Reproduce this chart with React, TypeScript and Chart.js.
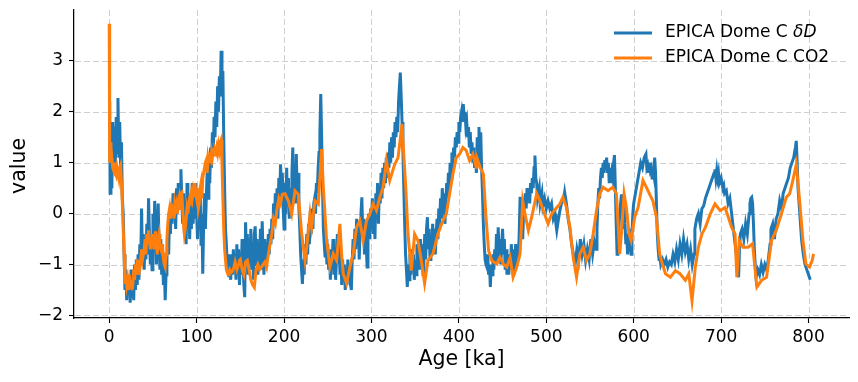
import { useEffect, useRef } from "react";
import { Chart, registerables } from "chart.js";

Chart.register(...registerables);

// ---------- data ----------
const xTickValues = [0, 100, 200, 300, 400, 500, 600, 700, 800];
const yTickValues = [-2, -1, 0, 1, 2, 3];
const xLabel = "Age [ka]";
const yLabel = "value";
const legendBase = "EPICA Dome C ";
const legendDeltaD = "δD";
const legendCO2 = "EPICA Dome C CO2";

// [age ka, standardized value]
const deltaD: [number, number][] = [
  [0,1.5],[0.5,2.2],[1,0.4],[2,1.2],[3,0.5],[4,1.8],[5,0.9],[6,1.7],[7,1.0],[8,1.9],[9,1.2],[10,2.27],[11,1.1],[12,1.8],[13,0.9],[14,1.4],[15,0.3],[16,0.0],[17,-0.8],
  [18,-1.5],[19,-1.1],[20,-1.7],[21,-1.2],[22,-1.6],[23,-1.3],[24,-1.75],[25,-1.1],[26,-1.65],[27,-1.2],[28,-1.7],[29,-1.0],[30,-1.5],[31,-0.9],[32,-1.4],[33,-0.8],[34,-1.3],[35,-0.6],
  [36,-1.0],[37,0.1],[38,-0.9],[39,-0.4],[40,-1.1],[41,-0.5],[42,-0.9],[43,-0.2],[44,-0.8],[45,0.3],[46,-0.4],[47,-1.0],
  [48,-0.5],[49,-1.1],[50,0.0],[51,-0.7],[52,0.25],[53,-0.5],[54,-1.0],[55,-0.3],[56,0.2],[57,-0.6],[58,-1.1],[59,-0.5],[60,-1.2],[61,-0.8],[62,-1.4],[63,-1.0],[64,-1.7],[65,-1.2],
  [66,-0.9],[67,-0.3],[68,-0.8],[69,0.0],[70,-0.4],[71,0.2],[72,-0.2],[73,0.4],[74,-0.1],[75,0.3],[76,-0.3],[77,0.5],[78,0.0],[79,0.6],[80,0.2],[81,0.5],[82,0.87],[83,0.3],
  [84,-0.2],[85,0.4],[86,-0.4],[87,0.2],[88,-0.6],[89,0.6],[90,-0.1],[91,0.3],[92,-0.5],[93,0.2],[94,-0.3],[95,0.6],[96,-0.2],[97,0.4],[98,-0.1],[99,0.6],[100,0.0],[101,-0.5],[102,0.3],[103,-0.3],[104,0.5],[105,-0.6],[106,0.0],[107,-1.18],[108,-0.2],[109,0.4],[110,-0.3],[111,0.3],
  [112,0.8],[113,0.3],[114,1.0],[115,0.6],[116,1.3],[117,0.9],[118,1.6],[119,1.2],[120,1.9],[121,1.5],[122,2.2],[123,1.7],[124,2.5],[125,2.0],[126,2.7],[127,2.3],[128,3.2],[129,2.4],[130,2.8],
  [131,1.5],[132,0.5],[133,-0.3],[134,-0.6],[135,-1.0],[136,-0.8],[137,-1.25],
  [138,-0.9],[139,-1.3],[140,-0.8],[141,-1.2],[142,-0.7],[143,-1.1],[144,-0.8],[145,-1.3],[146,-0.6],[147,-1.1],[148,-0.7],[149,-1.4],[150,-0.9],[151,-1.2],[152,-0.5],[153,-1.0],[154,-1.4],[155,-1.64],[156,-0.17],[157,-0.9],[158,-0.4],[159,-1.2],[160,-0.5],[161,-1.0],[162,-0.3],[163,-1.1],[164,-0.6],[165,-1.3],[166,-0.4],[167,-0.25],[168,-1.0],[169,-0.5],[170,-1.2],[171,-0.6],[172,-0.9],[173,-0.3],[174,-1.1],[175,-0.15],[176,-0.8],[177,-1.2],[178,-0.5],[179,-1.0],[180,-0.6],[181,-0.9],[182,-0.4],
  [183,-0.8],[184,-0.3],[185,-0.6],[186,-0.1],[187,-0.5],[188,0.2],[189,-0.2],[190,0.4],[191,0.0],[192,0.5],[193,-0.1],[194,0.7],[195,0.3],[196,0.97],[197,0.5],[198,0.8],
  [199,0.1],[200,-0.3],[201,0.6],[202,0.0],[203,0.9],[204,0.2],[205,0.7],[206,-0.1],[207,0.5],[208,0.1],[209,0.8],[210,1.3],[211,0.3],[212,0.9],[213,0.2],[214,1.17],[215,0.4],[216,0.8],[217,0.1],
  [218,-0.3],[219,-0.8],[220,-1.1],[221,-1.38],[222,-0.9],[223,-1.2],[224,-0.6],[225,-1.0],
  [226,-0.4],[227,-0.8],[228,-0.2],[229,-0.6],[230,0.05],[231,-0.4],[232,0.1],[233,-0.3],[234,0.2],
  [235,0.3],[236,0.0],[237,0.6],[238,0.4],[239,0.9],[240,1.2],[241,1.6],[242,2.35],[243,1.5],[244,0.5],[245,-0.3],[246,-0.6],[247,-0.86],[248,-0.5],[249,-1.0],
  [250,-0.6],[251,-1.1],[252,-0.8],[253,-1.3],[254,-0.7],[255,-1.0],[256,-0.5],[257,-1.2],[258,-0.8],[259,-1.3],[260,-0.9],[261,-0.4],[262,-1.0],[263,-0.6],[264,-1.2],[265,-0.8],[266,-1.4],[267,-0.9],[268,-1.3],[269,-1.0],[270,-1.5],[271,-1.1],[272,-1.4],[273,-0.9],[274,-1.3],[275,-1.0],[276,-1.4],[277,-1.5],[278,-0.9],
  [279,-0.5],[280,-0.9],[281,-0.3],[282,-0.7],[283,-0.1],[284,-0.6],[285,-0.2],[286,-0.9],[287,-0.3],[288,0.0],[289,0.32],[290,-0.4],[291,-0.1],[292,-0.8],[293,-0.2],[294,-0.6],[295,-1.05],[296,-0.3],[297,0.0],[298,-0.5],[299,0.1],[300,-0.2],
  [301,0.3],[302,-0.4],[303,0.2],[304,-0.5],[305,0.4],[306,0.0],[307,0.6],[308,-0.2],[309,0.5],[310,0.2],[311,0.8],[312,0.3],[313,0.9],[314,0.5],[315,1.0],[316,0.6],[317,1.1],[318,0.7],[319,1.2],[320,0.9],[321,1.4],[322,1.0],[323,1.5],[324,1.1],[325,1.6],[326,1.3],[327,1.8],
  [328,1.5],[329,1.9],[330,1.6],[331,2.2],[332,2.5],[333,2.77],[334,2.3],[335,1.8],[336,1.2],[337,0.5],[338,-0.2],[339,-0.8],[340,-1.1],[341,-1.44],[342,-1.0],
  [343,-1.3],[344,-0.8],[345,-1.2],[346,-0.7],[347,-1.1],[348,-0.8],[349,-1.3],[350,-0.9],[351,-1.2],[352,-0.6],[353,-1.0],[354,-0.7],[355,-1.1],[356,-0.5],[357,-0.9],[358,-0.6],[359,-1.2],[360,-0.8],[361,-0.4],[362,-0.9],[363,-0.3],[364,-0.07],[365,-0.7],[366,-0.3],[367,-0.9],[368,-0.5],[369,-0.8],[370,-0.2],[371,-0.6],[372,-0.3],[373,-0.8],
  [374,-0.4],[375,-0.1],[376,-0.5],[377,0.1],[378,-0.2],[379,0.3],[380,-0.1],[381,0.5],[382,0.1],[383,0.4],[384,-0.2],[385,0.2],[386,0.6],[387,0.3],[388,0.8],[389,0.5],[390,1.0],[391,0.7],[392,1.2],[393,0.9],[394,1.3],[395,1.1],[396,1.5],[397,1.3],
  [398,1.6],[399,1.4],[400,1.8],[401,1.6],[402,1.9],[403,2.0],[404,1.8],[405,2.15],[406,1.9],[407,2.0],[408,1.7],[409,1.8],[410,1.5],[411,1.7],[412,1.3],[413,1.6],[414,1.2],[415,1.4],[416,1.0],[417,1.3],[418,0.9],[419,1.2],[420,0.8],[421,1.5],[422,1.3],[423,1.7],[424,1.0],[425,1.6],[426,0.9],
  [427,0.4],[428,-0.2],[429,-0.6],[430,-0.9],[431,-1.0],[432,-1.05],[433,-0.8],[434,-1.2],[435,-1.0],[436,-1.44],
  [437,-1.0],[438,-1.2],[439,-0.8],[440,-1.1],[441,-0.7],[442,-1.0],[443,-0.4],[444,-0.9],[445,-0.27],[446,-0.8],[447,-0.5],[448,-1.0],[449,-0.6],[450,-0.3],[451,-0.8],[452,-0.5],[453,-1.1],[454,-0.7],[455,-1.2],[456,-0.9],[457,-1.2],[458,-0.8],[459,-1.1],[460,-0.6],[461,-1.0],[462,-0.7],[463,-1.2],[464,-0.9],[465,-0.6],[466,-1.0],[467,-0.7],[468,-0.9],
  [469,-0.4],[470,0.3],[471,0.32],[472,-0.2],[473,-0.5],[474,0.0],[475,0.2],[476,0.4],[477,0.1],[478,0.5],[479,0.3],[480,0.45],[481,0.2],[482,0.6],[483,0.4],[484,0.7],[485,0.5],[486,0.9],[487,1.14],[488,0.7],
  [489,0.6],[490,0.3],[492,0.5],[493,0.2],[495,0.4],[496,0.15],[498,0.3],[500,0.1],[502,0.25],[504,0.1],[506,0.2],[508,-0.1],[510,0.0],[511,-0.2],[512,-0.33],[514,-0.1],[516,0.1],[518,0.25],[520,0.3],[521,0.42],[523,0.2],[525,-0.1],[527,-0.3],
  [529,-0.6],[531,-0.8],[533,-1.0],[535,-0.7],[537,-0.9],[539,-0.5],[541,-0.8],[543,-0.6],[545,-0.92],[547,-0.7],[549,-0.9],[551,-0.5],[553,-0.8],[555,-0.55],[557,-0.7],
  [558,-0.3],[559,0.2],[560,0.5],[561,0.3],[562,0.7],[563,0.9],[564,0.7],[565,1.0],[566,0.8],[567,1.05],[568,0.9],[569,1.1],[570,0.8],[571,1.0],[572,0.6],[573,0.9],[574,0.6],[575,0.8],[576,0.7],[577,1.0],[578,1.15],[579,0.5],
  [580,-0.2],[581,-0.8],[582,-0.6],[583,-0.3],[584,0.0],[585,0.2],[586,0.38],[587,0.1],[588,-0.3],[589,0.2],[590,-0.2],[591,-0.6],[592,-0.4],[593,-0.8],[594,-0.5],[595,-0.3],[596,-0.6],[597,-0.8],[598,-0.4],
  [599,0.0],[600,0.2],[602,0.4],[604,0.6],[606,0.8],[608,1.0],[610,0.9],[612,1.1],[614,1.17],[615,0.9],[616,0.95],[617,0.8],[618,1.0],[619,0.85],[620,0.9],[621,0.7],[622,0.85],[623,0.75],[624,1.1],[625,0.8],
  [626,0.2],[627,-0.4],[628,-0.7],[629,-0.9],[630,-0.85],[631,-1.0],[633,-0.9],[635,-1.0],
  [637,-0.9],[639,-1.05],[641,-0.95],[643,-1.0],[645,-0.8],[647,-0.95],[649,-0.7],
  [651,-0.9],[653,-0.6],[655,-0.8],[657,-0.5],[659,-0.75],[661,-0.6],[663,-0.9],[665,-0.7],[667,-1.0],[669,-0.8],
  [670,-0.3],[672,-0.1],[674,0.0],[676,-0.2],[678,0.1],[680,0.15],[682,0.3],[684,0.4],[686,0.5],[688,0.6],[690,0.7],[692,0.8],[693,0.87],[694,0.7],[695,0.85],[696,0.7],[697,0.8],[698,0.6],[700,0.7],[702,0.5],[703,0.55],[704,0.4],[706,0.45],
  [708,0.2],[710,0.3],[712,0.0],[714,-0.3],[716,-0.6],[718,-0.9],[720,-1.25],[721,-0.7],
  [722,-0.4],[724,-0.3],[726,-0.5],[728,-0.2],[730,-0.4],[732,0.0],[733,0.2],[734,0.3],[735,0.32],[736,0.2],[737,-0.2],[738,-0.7],
  [739,-1.0],[740,-1.25],[742,-1.1],[744,-1.2],[746,-1.0],[748,-1.15],[750,-1.0],[752,-1.1],[754,-0.9],[756,-0.6],
  [757,-0.3],[759,-0.2],[761,-0.5],[763,-0.1],[765,0.0],[767,0.25],[769,0.1],[771,0.4],[773,0.5],[775,0.6],[777,0.7],[779,0.9],[781,1.0],[783,1.1],[785,1.3],[786,1.43],[787,1.0],
  [788,0.5],[790,0.0],[792,-0.5],[794,-0.8],[796,-1.0],[798,-1.1],[800,-1.2],[802,-1.3],
];

const co2: [number, number][] = [
  [0,3.73],[0.5,1.0],[1,1.4],[2,1.0],[3,1.1],[4,0.9],[5,0.85],[6,1.0],[7,0.8],[8,0.75],[9,0.9],[10,0.8],[11,0.7],[12,0.9],[13,0.95],[14,0.6],[15,0.2],[16,-0.3],[17,-0.8],[18,-1.38],[19,-1.2],
  [20,-1.4],[21,-1.3],[22,-1.5],[23,-1.2],[24,-1.45],[25,-1.3],[26,-1.5],[27,-1.4],[28,-1.1],[29,-1.3],[30,-1.0],[31,-1.2],[32,-0.9],[33,-1.1],[34,-1.2],[35,-1.0],[36,-0.9],[37,-0.7],[38,-0.9],[39,-0.8],
  [40,-0.7],[41,-0.5],[42,-0.8],[43,-0.4],[44,-0.6],[45,-0.33],[46,-0.5],[47,-0.7],[48,-0.45],[49,-0.6],[50,-0.4],[51,-0.7],[52,-0.5],[53,-0.35],[54,-0.6],[55,-0.8],[56,-0.5],
  [57,-0.4],[58,-0.6],[59,-0.7],[60,-0.75],[61,-0.6],[62,-0.9],[63,-1.0],[64,-1.05],[65,-0.8],[66,-0.5],[67,-0.2],[68,0.0],[69,0.1],
  [70,-0.1],[71,0.2],[72,0.0],[73,0.15],[74,-0.1],[75,0.2],[76,0.1],[77,0.19],[78,0.0],[79,0.2],[80,0.3],[81,0.1],[82,0.4],[83,0.42],[84,0.1],[85,-0.2],[86,-0.4],[87,-0.3],[88,-0.1],[89,0.1],[90,0.0],[91,0.2],[92,0.3],[93,0.25],[94,0.4],[95,0.3],[96,0.45],[97,0.35],[98,0.6],[99,0.4],[100,0.3],[101,0.5],[102,0.1],[103,0.2],[104,0.5],[105,0.6],[106,0.3],[107,0.7],[108,0.8],[109,0.9],[110,1.0],[111,1.05],
  [112,0.8],[113,1.1],[114,1.0],[115,1.1],[116,1.05],[117,1.2],[118,1.1],[119,1.2],[120,1.15],[121,1.25],[122,1.2],[123,1.3],[124,1.2],[125,1.35],[126,1.25],[127,1.4],[128,1.45],[129,1.0],[130,0.3],[131,-0.3],[132,-0.7],[133,-0.9],[134,-1.1],[135,-1.15],[136,-1.2],[137,-1.18],
  [138,-1.1],[140,-1.15],[142,-1.1],[144,-0.95],[146,-1.1],[148,-1.0],[149,-0.92],[150,-0.9],[152,-1.1],[154,-1.2],[156,-0.95],[158,-0.92],[160,-1.1],[162,-1.3],[164,-1.4],[166,-1.45],[168,-1.1],[170,-1.0],[172,-1.1],[174,-1.05],[176,-1.0],[178,-0.95],[180,-1.05],[182,-0.8],
  [184,-0.6],[186,-0.4],[188,-0.1],[190,-0.2],[192,0.1],[194,0.3],[196,0.2],[198,0.38],
  [201.1,0.39],[204.9,0.25],[208.7,-0.01],[212.5,0.45],[216.3,0.38],[220.2,-0.4],[224,-0.92],[225.9,-0.66],[229.7,-0.01],[231.6,-0.27],[235.4,0.25],[239.2,0.19],[243,1.27],[244.9,0.52],[248.7,-0.53],[252.5,-1.05],[256.3,-0.79],[260.1,-0.92],[263.9,-0.2],[265.8,-0.79],[267.7,-1.18],[271.5,-1.37],[275.3,-1.05],[279.1,-0.79],[282.9,-0.27],[286.7,-0.14],[290.5,-0.53],[294.3,-0.14],[298.1,-0.01],[301.9,0.19],[305.7,0.06],[309.5,0.32],[313.3,0.52],[317.1,1.04],[320.9,0.65],[326.6,0.97],[330.4,1.1],[335,1.76],[336.9,1.17],[339.2,0.52],[341.8,-0.4],[345.6,-1.12],[349.4,-0.4],[353.2,-0.53],[357,-0.92],[360.8,-1.37],[364.6,-0.92],[370.3,-0.79],[376,-0.4],[381.7,-0.14],[385.6,-0.01],[389.4,0.39],[393.2,0.78],[397,1.1],[400.8,1.17],[404.6,1.3],[408.4,1.24],[412.2,1.04],[416,1.17],[419.8,0.91],
  [420.5,1.1],[424.3,0.91],[428,0.78],[431,-0.07],[434,-0.73],[437.6,-0.92],[443.3,-0.99],[447.1,-0.86],[451,-0.99],[454.8,-1.05],[458.6,-0.86],[462,-1.25],[466.2,-1.05],[470,-0.79],[473,0.25],[475.7,-0.01],[479.5,-0.33],[483.3,-0.07],[489,0.39],[492.8,0.25],[496.6,0.06],[502,-0.2],[506,-0.01],[512,0.12],[515.6,0.19],[519,0.32],[523.2,0.12],[527,-0.27],[530.8,-0.86],[534.6,-1.25],[538.4,-0.79],[542.2,-0.66],[546,-0.92],[549.8,-0.79],[553.6,-0.4],[557.4,0.06],[561.2,0.39],[565,0.52],[570.7,0.45],[576,0.52],[580.2,0.39],[584,-0.79],[585.9,-0.4],[589,0.39],[591.6,0.12],[594.7,-0.4],[597,-0.53],[601.1,-0.07],[605,0.12],[610.6,0.65],[614.4,0.52],[618,0.39],[622,0.25],[626,-0.07],[629.7,-0.79],
  [633,-1.0],[636.4,-1.18],[642,-1.25],[647.7,-1.12],[653,-1.18],[659.1,-1.31],[663,-1.18],[666.7,-1.71],[670.5,-1.05],[674,-0.66],[678,-0.4],[682,-0.27],[687.5,-0.01],[693,0.19],[698.9,0.06],[704.5,0.12],[708.3,-0.07],[712,-0.27],[715.9,-0.4],[718,-1.25],[720.8,-0.53],[725,-0.66],[731.1,-0.66],[736,-0.59],[738.6,-1.05],[741,-1.44],[746.2,-1.31],[752,-1.25],[757.6,-0.53],[763,-0.33],[768.9,-0.01],[774.6,0.32],[778.4,0.39],[782,0.65],[786,0.97],[789.8,0.25],[793.6,-0.53],[797,-0.99],[801.1,-1.05],[804.2,-0.92],[805.7,-0.79],
];

const BLUE = "#1f77b4";
const ORANGE = "#ff7f0e";
const FONT = "'DejaVu Sans', sans-serif";

export default function App() {
  const canvasRef = useRef<HTMLCanvasElement | null>(null);

  useEffect(() => {
    const canvas = canvasRef.current;
    if (!canvas) return;

    const decorPlugin = {
      id: "decor",
      beforeDatasetsDraw(chart: any) {
        const { ctx, chartArea, scales } = chart;
        ctx.save();
        ctx.strokeStyle = "#cfcfcf";
        ctx.lineWidth = 1;
        ctx.setLineDash([6, 3]);
        for (const v of xTickValues) {
          const x = Math.round(scales.x.getPixelForValue(v)) + 0.5;
          ctx.beginPath();
          ctx.moveTo(x, chartArea.top);
          ctx.lineTo(x, chartArea.bottom - 1);
          ctx.stroke();
        }
        for (const v of yTickValues) {
          const y = Math.round(scales.y.getPixelForValue(v)) + 0.5;
          ctx.beginPath();
          ctx.moveTo(chartArea.left + 1, y);
          ctx.lineTo(chartArea.right, y);
          ctx.stroke();
        }
        ctx.restore();
      },
      afterDraw(chart: any) {
        const { ctx, chartArea } = chart;
        ctx.save();
        ctx.fillStyle = "#000";
        // axis titles
        ctx.font = `20.5px ${FONT}`;
        ctx.textAlign = "center";
        ctx.textBaseline = "middle";
        ctx.fillText(xLabel, (chartArea.left + chartArea.right) / 2, 360);
        ctx.save();
        ctx.translate(20, (chartArea.top + chartArea.bottom) / 2 + 2);
        ctx.rotate(-Math.PI / 2);
        ctx.fillText(yLabel, 0, 0);
        ctx.restore();

        // legend
        const rows = [
          { color: BLUE, y: 33 },
          { color: ORANGE, y: 58 },
        ];
        ctx.lineWidth = 3;
        ctx.setLineDash([]);
        for (const r of rows) {
          ctx.strokeStyle = r.color;
          ctx.beginPath();
          ctx.moveTo(614, r.y);
          ctx.lineTo(652, r.y);
          ctx.stroke();
        }
        ctx.textAlign = "left";
        ctx.font = `17px ${FONT}`;
        ctx.fillText(legendBase, 665, rows[0].y);
        const w = ctx.measureText(legendBase).width;
        ctx.font = `italic 17px ${FONT}`;
        ctx.fillText(legendDeltaD, 665 + w, rows[0].y);
        ctx.font = `17px ${FONT}`;
        ctx.fillText(legendCO2, 665, rows[1].y);
        ctx.restore();
      },
    };

    const chart = new Chart(canvas, {
      type: "line",
      data: {
        datasets: [
          {
            label: legendBase + legendDeltaD,
            data: deltaD.map(([x, y]) => ({ x, y })),
            borderColor: BLUE,
            backgroundColor: BLUE,
            borderWidth: 3,
            pointRadius: 0,
            tension: 0,
            order: 2,
          },
          {
            label: legendCO2,
            data: co2.map(([x, y]) => ({ x, y })),
            borderColor: ORANGE,
            backgroundColor: ORANGE,
            borderWidth: 3,
            pointRadius: 0,
            tension: 0,
            order: 1,
          },
        ],
      },
      options: {
        responsive: false,
        animation: false,
        devicePixelRatio: 1,
        parsing: false as any,
        layout: { padding: { top: 10, right: 9, left: 0, bottom: 0 } },
        plugins: {
          legend: { display: false },
          tooltip: { enabled: false },
        },
        scales: {
          x: {
            type: "linear",
            min: -40.3,
            max: 846.3,
            afterBuildTicks: (scale: any) => {
              scale.ticks = xTickValues.map((value) => ({ value }));
            },
            afterFit: (scale: any) => {
              scale.height = 64;
              scale.paddingLeft = 0;
              scale.paddingRight = 0;
            },
            grid: {
              drawOnChartArea: false,
              drawTicks: true,
              tickLength: 5,
              tickColor: "#000",
              tickWidth: 1.1,
              color: "rgba(0,0,0,0)",
            },
            border: { display: true, color: "#000", width: 1.25 },
            ticks: {
              color: "#000",
              font: { family: FONT, size: 17 },
              padding: 4,
              maxRotation: 0,
              autoSkip: false,
              callback: (v: any) => String(v).replace("-", "\u2212"),
            },
          },
          y: {
            type: "linear",
            min: -2.05,
            max: 4.0,
            afterBuildTicks: (scale: any) => {
              scale.ticks = yTickValues.map((value) => ({ value }));
            },
            afterFit: (scale: any) => {
              scale.width = 74;
              scale.paddingTop = 0;
              scale.paddingBottom = 0;
            },
            grid: {
              drawOnChartArea: false,
              drawTicks: true,
              tickLength: 5,
              tickColor: "#000",
              tickWidth: 1.1,
              color: "rgba(0,0,0,0)",
            },
            border: { display: true, color: "#000", width: 1.25 },
            ticks: {
              color: "#000",
              font: { family: FONT, size: 17 },
              padding: 6,
              autoSkip: false,
              callback: (v: any) => String(v).replace("-", "\u2212"),
            },
          },
        },
      },
      plugins: [decorPlugin],
    } as any);

    return () => chart.destroy();
  }, []);

  return (
    <div style={{ position: "fixed", left: 0, top: 0, width: 858, height: 382, background: "#fff" }}>
      <canvas ref={canvasRef} width={858} height={382} style={{ display: "block", width: 858, height: 382 }} />
    </div>
  );
}
